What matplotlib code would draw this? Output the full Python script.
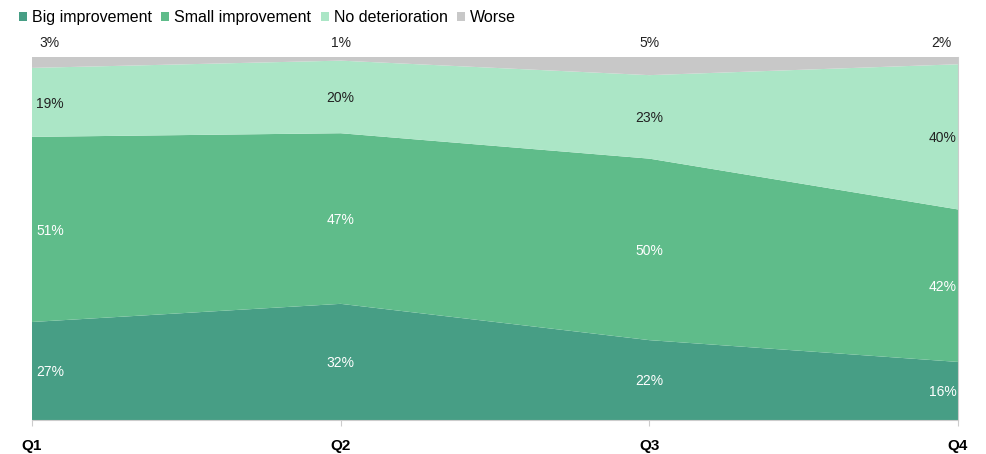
import matplotlib
matplotlib.use("Agg")
from matplotlib import pyplot as plt
import numpy as np

plt.rcParams["font.family"] = ["Liberation Sans", "DejaVu Sans"]

quarters = ["Q1", "Q2", "Q3", "Q4"]
big = [27, 32, 22, 16]
small = [51, 47, 50, 42]
no_det = [19, 20, 23, 40]
worse = [3, 1, 5, 2]

series_names = ["Big improvement", "Small improvement", "No deterioration", "Worse"]
colors = ["#479e85", "#5fbc8a", "#abe6c6", "#c8c8c8"]
label_colors = ["white", "white", "#222222", "#222222"]

fig = plt.figure(figsize=(9.86, 4.54), dpi=100)
ax = fig.add_axes([32 / 986, 34 / 454, 926 / 986, 363 / 454])

x = np.arange(len(quarters))
data = [big, small, no_det, worse]
ax.stackplot(x, data, colors=colors, labels=series_names)

ax.set_xlim(0, len(quarters) - 1)
ax.set_ylim(0, 100)

# value labels: middle of each band, worse labels above the plot
bottoms = np.zeros(len(quarters))
for i, vals in enumerate(data):
    vals = np.array(vals)
    for j in range(len(quarters)):
        if j == 0:
            ha, dx = "left", 3
        elif j == len(quarters) - 1:
            ha, dx = "right", -1
        else:
            ha, dx = "center", 0
        if i == len(data) - 1:
            y = 100
            dy = 10
            if j == 0:
                dx = 5
            elif j == len(quarters) - 1:
                dx = -5
        else:
            y = bottoms[j] + vals[j] / 2
            dy = -1
        ax.annotate(f"{vals[j]}%", (x[j], y), xytext=(dx, dy), textcoords="offset points",
                    ha=ha, va="center", fontsize=10, color=label_colors[i],
                    annotation_clip=False)
    bottoms += vals

ax.set_xticks(x)
ax.set_xticklabels(quarters, fontsize=11, fontweight="bold")
ax.set_yticks([])
for side in ["top", "left"]:
    ax.spines[side].set_visible(False)
for side in ["bottom", "right"]:
    ax.spines[side].set_color("#cccccc")
ax.tick_params(axis="x", length=4, color="#cccccc", pad=10)

ax.legend(loc="lower left", bbox_to_anchor=(-13 / 926, 1.087), ncol=4, frameon=False,
          fontsize=11.5, handlelength=0.5, handleheight=0.5, handletextpad=0.3,
          columnspacing=0.6, borderaxespad=0, borderpad=0)

plt.savefig("out.png", dpi=100)
